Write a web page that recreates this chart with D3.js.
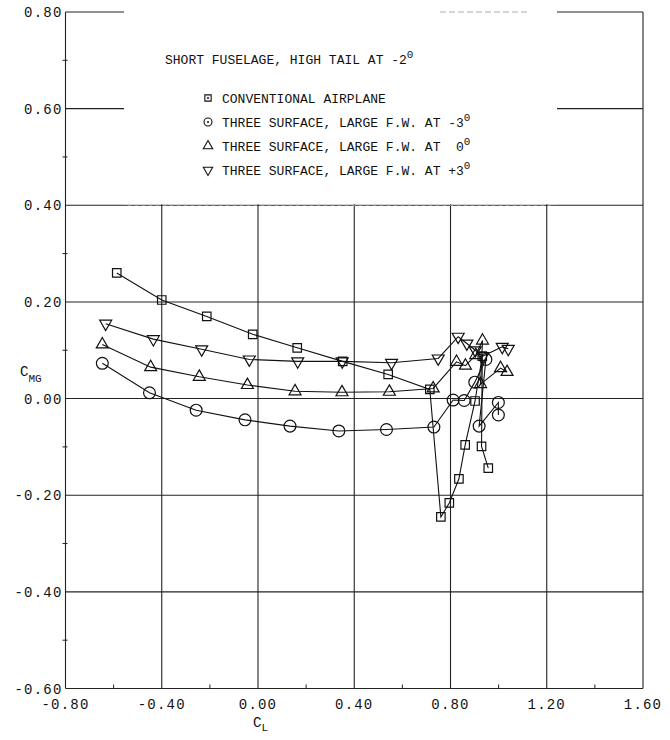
<!DOCTYPE html>
<html>
<head>
<meta charset="utf-8">
<script src="https://cdn.jsdelivr.net/npm/d3@7"></script>
<style>
  body { margin: 0; background: #fff; }
  svg { display: block; }
  text { font-family: "Liberation Mono", "DejaVu Sans Mono", monospace; fill: #111; white-space: pre; }
  .tick-label { font-size: 14px; letter-spacing: 1.2px; }
</style>
</head>
<body>
<script>
// C_L values and C_MG values
var conv_cl  = [-0.587, -0.400, -0.213, -0.022, 0.163, 0.352, 0.541, 0.714, 0.760, 0.795, 0.835, 0.861, 0.902, 0.932, 0.929, 0.957];
var conv_cm  = [ 0.260,  0.204,  0.170,  0.133, 0.105, 0.077, 0.050, 0.019, -0.245, -0.216, -0.166, -0.096, -0.005, 0.088, -0.099, -0.144];

var m3_cl = [-0.647, -0.451, -0.257, -0.054, 0.133, 0.336, 0.534, 0.731, 0.811, 0.857, 0.901, 0.947, 0.919, 0.999, 0.999];
var m3_cm = [ 0.073,  0.012, -0.024, -0.044, -0.057, -0.067, -0.064, -0.059, -0.003, -0.004, 0.034, 0.081, -0.057, -0.008, -0.034];

var z0_cl = [-0.647, -0.446, -0.244, -0.044, 0.154, 0.349, 0.546, 0.728, 0.825, 0.862, 0.905, 0.933, 0.925, 1.008, 1.035];
var z0_cm = [ 0.112,  0.065,  0.045,  0.028, 0.015, 0.013, 0.014, 0.021, 0.076, 0.068, 0.090, 0.120, 0.030, 0.063, 0.055];

var p3_cl = [-0.633, -0.435, -0.234, -0.036, 0.165, 0.350, 0.555, 0.749, 0.832, 0.868, 0.903, 0.935, 1.015, 1.040];
var p3_cm = [ 0.155,  0.123,  0.102,  0.081, 0.077, 0.077, 0.074, 0.083, 0.128, 0.114, 0.100, 0.088, 0.107, 0.103];

var xTicks = [-0.80, -0.40, 0.00, 0.40, 0.80, 1.20, 1.60];
var yTicks = [-0.60, -0.40, -0.20, 0.00, 0.20, 0.40, 0.60, 0.80];

var legendTitle = "SHORT FUSELAGE, HIGH TAIL AT -2";
var legendRows = [
  { label: "CONVENTIONAL AIRPLANE", sup: "" },
  { label: "THREE SURFACE, LARGE F.W. AT -3", sup: "0" },
  { label: "THREE SURFACE, LARGE F.W. AT  0", sup: "0" },
  { label: "THREE SURFACE, LARGE F.W. AT +3", sup: "0" }
];

var width = 670, height = 740;

var svg = d3.select("body").append("svg")
    .attr("width", width)
    .attr("height", height);

var x = d3.scaleLinear().domain([-0.8, 1.6]).range([65.5, 643]);
var y = d3.scaleLinear().domain([-0.6, 0.8]).range([688.5, 12]);

function zip(a, b) { return a.map(function(v, i) { return [v, b[i]]; }); }

var series = [
  { pts: zip(conv_cl, conv_cm), type: "square" },
  { pts: zip(m3_cl, m3_cm), type: "circle" },
  { pts: zip(z0_cl, z0_cm), type: "up" },
  { pts: zip(p3_cl, p3_cm), type: "down" }
];

// grid
var grid = svg.append("g").attr("class", "grid");
grid.selectAll("line.gx")
    .data(xTicks)
  .enter().append("line")
    .attr("x1", function(d) { return x(d); })
    .attr("x2", function(d) { return x(d); })
    .attr("y1", y(0.8)).attr("y2", y(-0.6))
    .attr("stroke", "#222").attr("stroke-width", 1.1);
grid.selectAll("line.gy")
    .data(yTicks)
  .enter().append("line")
    .attr("x1", x(-0.8)).attr("x2", x(1.6))
    .attr("y1", function(d) { return y(d); })
    .attr("y2", function(d) { return y(d); })
    .attr("stroke", "#222").attr("stroke-width", 1.1);

// minor ticks
var minorX = d3.range(-0.6, 1.6, 0.4);
svg.selectAll("line.mx")
    .data(minorX)
  .enter().append("line")
    .attr("x1", function(d) { return x(d); })
    .attr("x2", function(d) { return x(d); })
    .attr("y1", y(-0.6)).attr("y2", y(-0.6) - 4)
    .attr("stroke", "#222");
var minorY = d3.range(-0.5, 0.8, 0.2);
svg.selectAll("line.my")
    .data(minorY)
  .enter().append("line")
    .attr("x1", x(-0.8) - 3).attr("x2", x(-0.8) + 2)
    .attr("y1", function(d) { return y(d); })
    .attr("y2", function(d) { return y(d); })
    .attr("stroke", "#222");

// legend box (blanks the grid behind it)
var lx0 = 124, lx1 = 557;
svg.append("rect")
    .attr("x", lx0).attr("y", 6)
    .attr("width", lx1 - lx0).attr("height", y(0.4) - 7)
    .attr("fill", "#fff");
svg.append("line")
    .attr("x1", lx0 + 4).attr("x2", lx1 - 4)
    .attr("y1", y(0.4)).attr("y2", y(0.4))
    .attr("stroke", "#999").attr("stroke-dasharray", "3,4");
svg.append("line")
    .attr("x1", 440).attr("x2", 530)
    .attr("y1", y(0.8)).attr("y2", y(0.8))
    .attr("stroke", "#aaa").attr("stroke-dasharray", "6,3");

// axis labels
svg.selectAll("text.xl")
    .data(xTicks)
  .enter().append("text")
    .attr("class", "tick-label")
    .attr("x", function(d) { return x(d); })
    .attr("y", y(-0.6) + 20)
    .attr("text-anchor", "middle")
    .text(function(d) { return d3.format(".2f")(d).replace("−", "-"); });
svg.selectAll("text.yl")
    .data(yTicks)
  .enter().append("text")
    .attr("class", "tick-label")
    .attr("x", x(-0.8) - 3)
    .attr("y", function(d) { return y(d) + 5; })
    .attr("text-anchor", "end")
    .text(function(d) { return d3.format(".2f")(d).replace("−", "-"); });

var yl = svg.append("text").attr("x", 20).attr("y", 376).style("font-size", "14px");
yl.append("tspan").text("C");
yl.append("tspan").attr("dy", 6).style("font-size", "11px").text("MG");
var xl = svg.append("text").attr("x", 253).attr("y", 727).style("font-size", "14px");
xl.append("tspan").text("C");
xl.append("tspan").attr("dy", 4).style("font-size", "11px").text("L");

// data lines
var line = d3.line()
    .x(function(d) { return x(d[0]); })
    .y(function(d) { return y(d[1]); });

svg.selectAll("path.series")
    .data(series)
  .enter().append("path")
    .attr("d", function(d) { return line(d.pts); })
    .attr("fill", "none")
    .attr("stroke", "#111")
    .attr("stroke-width", 1.1);

var symbolFor = {
  square: d3.symbol().type(d3.symbolSquare).size(72),
  circle: d3.symbol().type(d3.symbolCircle).size(110),
  up: d3.symbol().type(d3.symbolTriangle).size(62),
  down: d3.symbol().type(d3.symbolTriangle).size(62)
};

series.forEach(function(s) {
  svg.append("g")
    .selectAll("path")
    .data(s.pts)
    .enter().append("path")
      .attr("d", symbolFor[s.type]())
      .attr("transform", function(d) {
        return "translate(" + x(d[0]) + "," + y(d[1]) + ")" + (s.type == "down" ? " rotate(180)" : "");
      })
      .attr("fill", "none")
      .attr("stroke", "#111")
      .attr("stroke-width", 1.2);
});

// legend
var tt = svg.append("text").attr("x", 165).attr("y", 64).style("font-size", "13px");
tt.append("tspan").text(legendTitle);
tt.append("tspan").attr("dy", -6).style("font-size", "11px").text("0");

var legSym = [
  d3.symbol().type(d3.symbolSquare).size(40),
  d3.symbol().type(d3.symbolCircle).size(50),
  d3.symbol().type(d3.symbolTriangle).size(38),
  d3.symbol().type(d3.symbolTriangle).size(38)
];
var rowY = [98, 122, 146, 170];

var leg = svg.append("g").selectAll("g")
    .data(legendRows)
  .enter().append("g")
    .attr("transform", function(d, i) { return "translate(208," + rowY[i] + ")"; });

leg.append("path")
    .attr("d", function(d, i) { return legSym[i](); })
    .attr("transform", function(d, i) { return i == 3 ? "rotate(180)" : null; })
    .attr("fill", "none")
    .attr("stroke", "#111")
    .attr("stroke-width", 1.1);
leg.filter(function(d, i) { return i < 2; })
  .append("circle")
    .attr("r", 1)
    .attr("fill", "#111");

var lt = leg.append("text")
    .attr("x", 14).attr("y", 5)
    .style("font-size", "13px");
lt.append("tspan").text(function(d) { return d.label; });
lt.append("tspan").attr("dy", -6).style("font-size", "11px").text(function(d) { return d.sup; });
</script>
</body>
</html>
